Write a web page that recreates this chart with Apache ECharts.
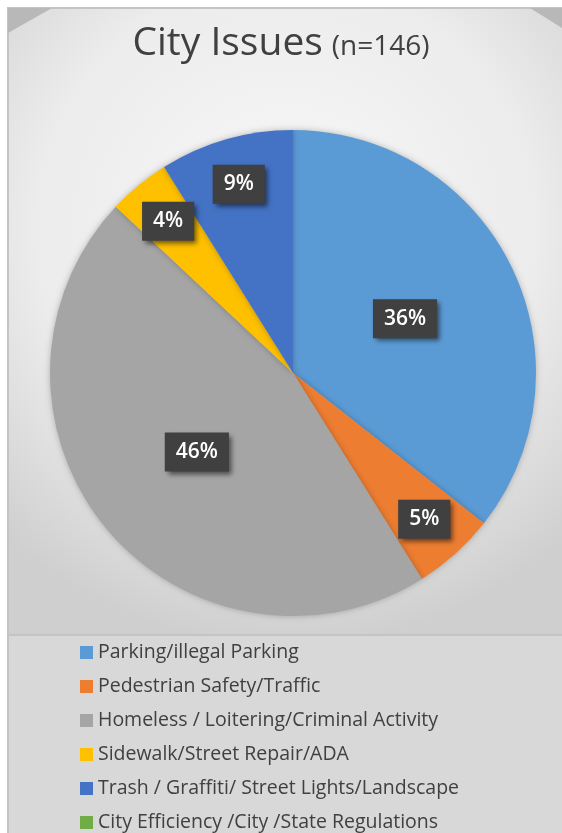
<!DOCTYPE html>
<html lang="en">
<head>
    <meta charset="UTF-8">
    <title>City Issues</title>
    <script src="https://cdn.jsdelivr.net/npm/echarts@6/dist/echarts.min.js"></script>
    <style>
        html, body { margin: 0; padding: 0; background: #ffffff; }
    </style>
</head>
<body>
<div id="main" style="width: 562px;height:833px;"></div>
<script type="text/javascript">
    // categories and counts (n=146)
    var categories = [
        'Parking/illegal Parking',
        'Pedestrian Safety/Traffic',
        'Homeless / Loitering/Criminal Activity',
        'Sidewalk/Street Repair/ADA',
        'Trash / Graffiti/ Street Lights/Landscape',
        'City Efficiency /City /State Regulations'
    ];
    var counts = [52, 8, 67, 6, 13, 0];
    var colors = ['#5B9BD5', '#ED7D31', '#A5A5A5', '#FFC000', '#4472C4', '#70AD47'];

    var total = counts.reduce(function (a, b) { return a + b; }, 0);

    var myChart = echarts.init(document.getElementById('main'));

    var labelStyle = {
        color: '#ffffff',
        fontFamily: 'Open Sans',
        fontWeight: 600,
        fontSize: 21,
        backgroundColor: '#404040',
        padding: [10, 11, 8, 11],
        shadowColor: 'rgba(0,0,0,0.55)',
        shadowBlur: 5,
        shadowOffsetX: 3,
        shadowOffsetY: 3
    };

    function pct(v) {
        return Math.round(v / total * 100) + '%';
    }

    // big slices: label in the middle of the slice
    var innerData = categories.map(function (name, i) {
        var big = counts[i] / total >= 0.2;
        return {
            name: name,
            value: counts[i],
            itemStyle: { color: colors[i] },
            label: { show: big }
        };
    });
    // small slices: label further out, drawn on a transparent ring
    var outerData = categories.map(function (name, i) {
        var small = counts[i] > 0 && counts[i] / total < 0.2;
        return {
            name: name,
            value: counts[i],
            itemStyle: { color: 'rgba(0,0,0,0)' },
            label: { show: small }
        };
    });

    var option = {
        animation: false,
        title: {
            text: '{a|City Issues} {b|(n=146)}',
            left: 'center',
            top: 19,
            textStyle: {
                fontWeight: 'normal',
                rich: {
                    a: { fontFamily: 'Open Sans', fontSize: 39, fontWeight: 500, color: '#404040' },
                    b: { fontFamily: 'Open Sans', fontSize: 28, fontWeight: 500, color: '#404040', padding: [8, 0, 0, 4] }
                }
            }
        },
        graphic: [
            // chart panel
            {
                type: 'rect', z: -10,
                shape: { x: 8, y: 8, width: 556, height: 627 },
                style: {
                    fill: {
                        type: 'radial', x: 0.5, y: 0.35, r: 0.75,
                        colorStops: [
                            { offset: 0, color: '#f8f8f8' },
                            { offset: 0.6, color: '#ececec' },
                            { offset: 1, color: '#cfcfcf' }
                        ]
                    },
                    stroke: '#c4c4c4', lineWidth: 2
                }
            },
            // legend panel
            {
                type: 'rect', z: -10,
                shape: { x: 8, y: 635, width: 556, height: 200 },
                style: { fill: '#d8d8d8', stroke: '#c4c4c4', lineWidth: 2 }
            },
            // bevel corners
            {
                type: 'polygon', z: -9,
                shape: { points: [[8, 8], [52, 8], [8, 33]] },
                style: { fill: '#b8b8b8' }
            },
            {
                type: 'polygon', z: -9,
                shape: { points: [[530, 8], [562, 8], [562, 28]] },
                style: { fill: '#b8b8b8' }
            }
        ],
        legend: {
            orient: 'vertical',
            left: 80,
            top: 642,
            height: 220,
            padding: 0,
            itemWidth: 13,
            itemHeight: 13,
            itemGap: 13,
            icon: 'rect',
            data: categories.map(function (name, i) {
                return { name: name, itemStyle: { color: colors[i] } };
            }),
            textStyle: {
                fontFamily: 'Open Sans',
                fontSize: 19.5,
                lineHeight: 21,
                color: '#404040'
            }
        },
        series: [
            {
                name: 'City Issues',
                type: 'pie',
                center: [293, 373],
                radius: [0, 243],
                startAngle: 90,
                clockwise: true,
                avoidLabelOverlap: false,
                itemStyle: {
                    shadowColor: 'rgba(0,0,0,0.25)',
                    shadowBlur: 6
                },
                label: Object.assign({
                    position: 'inside',
                    formatter: function (p) { return pct(p.value); }
                }, labelStyle),
                labelLine: { show: false },
                emphasis: { disabled: true },
                data: innerData
            },
            {
                name: 'City Issues labels',
                type: 'pie',
                center: [293, 373],
                radius: [144, 243],
                startAngle: 90,
                clockwise: true,
                silent: true,
                avoidLabelOverlap: false,
                label: Object.assign({
                    position: 'inside',
                    formatter: function (p) { return pct(p.value); }
                }, labelStyle),
                labelLine: { show: false },
                emphasis: { disabled: true },
                data: outerData,
                z: 3
            }
        ]
    };

    myChart.setOption(option);
</script>
</body>
</html>
